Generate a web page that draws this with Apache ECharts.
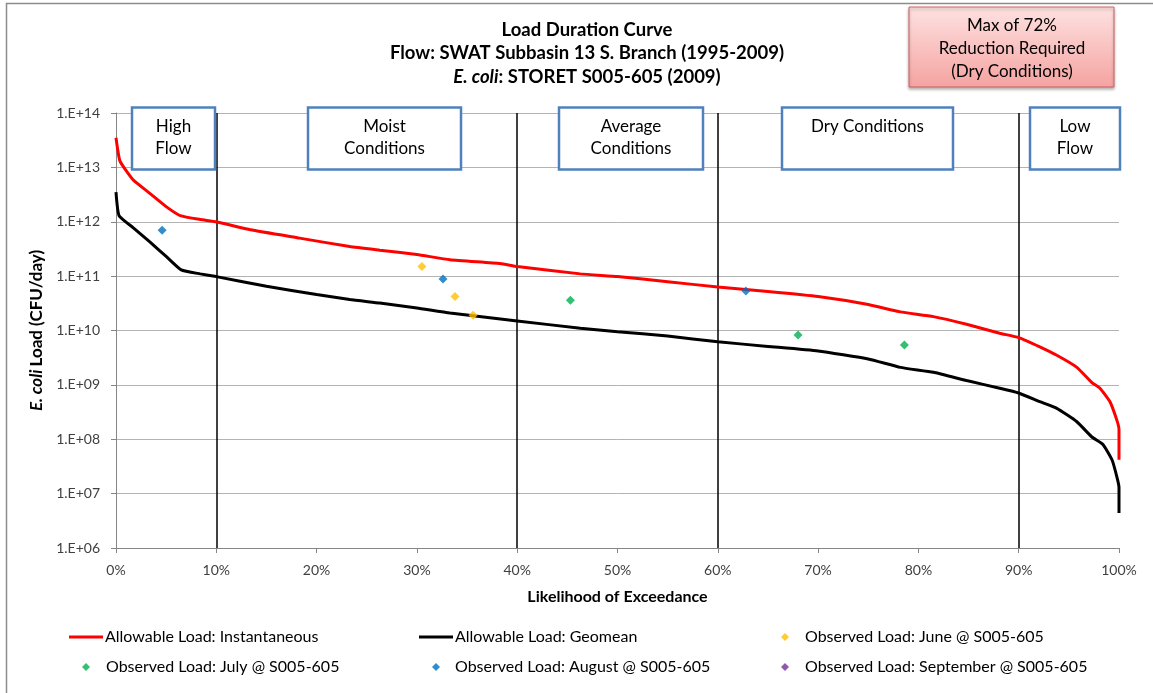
<!DOCTYPE html>
<html>
<head>
<meta charset="utf-8">
<script src="https://cdn.jsdelivr.net/npm/echarts@6/dist/echarts.min.js"></script>
<style>
  html, body { margin: 0; padding: 0; background: #fff; }
  #chart { width: 1153px; height: 693px; }
</style>
</head>
<body>
<div id="chart"></div>
<script>
// allowable load curves (percent exceedance / CFU per day)
const redPct = [0, 0.4, 1.7, 3.4, 5, 6.4, 8.4, 10, 13.4, 18.3, 23.3, 26.3, 30, 33.3, 38.3, 40, 46.3, 50, 55, 60, 65, 70, 75, 78.2, 81.5, 84.8, 88.1, 90, 92.1, 93.8, 95.8, 97.3, 98.1, 99.1, 99.8, 100, 100];
const redLoad = [3.5e13, 1.3e13, 5.9e12, 3.3e12, 1.9e12, 1.3e12, 1.1e12, 1.0e12, 7.1e11, 5.0e11, 3.5e11, 3.0e11, 2.5e11, 2.0e11, 1.7e11, 1.5e11, 1.1e11, 9.8e10, 7.9e10, 6.3e10, 5.2e10, 4.2e10, 3.0e10, 2.2e10, 1.8e10, 1.3e10, 8.9e9, 7.4e9, 5.0e9, 3.5e9, 2.1e9, 1.1e9, 8.7e8, 4.9e8, 2.2e8, 1.5e8, 4.2e7];

const blackPct = [0, 0.3, 1.7, 3.4, 5, 6.5, 8.4, 10, 15, 20, 23.3, 26.3, 30, 33.3, 40, 46.3, 50, 55, 60, 65, 70, 75, 78.2, 81.5, 84.8, 88.1, 90, 92.1, 93.8, 95.8, 97.3, 98.4, 99.3, 99.8, 100, 100];
const blackLoad = [3.5e12, 1.3e12, 7.8e11, 4.2e11, 2.3e11, 1.3e11, 1.1e11, 9.8e10, 6.5e10, 4.6e10, 3.7e10, 3.2e10, 2.6e10, 2.1e10, 1.5e10, 1.1e10, 9.5e9, 7.9e9, 6.2e9, 5.1e9, 4.2e9, 3.0e9, 2.1e9, 1.7e9, 1.2e9, 8.7e8, 7.1e8, 4.9e8, 3.7e8, 2.1e8, 1.1e8, 8.0e7, 4.2e7, 2.0e7, 1.3e7, 4.4e6];

// observed loads
const junePct = [30.5, 33.8, 35.6];
const juneLoad = [1.5e11, 4.2e10, 1.9e10];
const julyPct = [45.3, 68.0, 78.6];
const julyLoad = [3.6e10, 8.3e9, 5.4e9];
const augPct = [4.6, 32.6, 62.8];
const augLoad = [7.0e11, 8.9e10, 5.3e10];
const sepPct = [];
const sepLoad = [];

const zoneBreaks = [10, 40, 60, 90];
const xTicks = [0, 100, 10]; // min, max, step

const FONT = "Lato, 'Liberation Sans', sans-serif";

const zip = (xs, ys) => xs.map((x, i) => [x, ys[i]]);

const chart = echarts.init(document.getElementById("chart"));

// zone label boxes drawn as annotations
const zoneBoxes = [
  { x: 132, w: 83, text: "High\nFlow" },
  { x: 308, w: 153, text: "Moist\nConditions" },
  { x: 559, w: 144, text: "Average\nConditions" },
  { x: 782, w: 171, text: "Dry Conditions\n " },
  { x: 1030, w: 90, text: "Low\nFlow" },
];

const graphics = [
  {
    type: "rect",
    shape: { x: 6.5, y: 3.5, width: 1200, height: 800 },
    style: { fill: null, stroke: "#8c8c8c", lineWidth: 1.5 },
    silent: true,
    z: -1,
  },
  {
    type: "rect",
    shape: { x: 909, y: 7, width: 205, height: 80 },
    style: {
      fill: new echarts.graphic.LinearGradient(0, 0, 0, 1, [
        { offset: 0, color: "#fde2e1" },
        { offset: 1, color: "#f5a3a1" },
      ]),
      stroke: "#d0615e",
      lineWidth: 1,
      shadowBlur: 3,
      shadowOffsetY: 2,
      shadowColor: "rgba(0,0,0,0.3)",
    },
    z: 100,
  },
  {
    type: "text",
    x: 1012,
    y: 14,
    style: {
      text: "Max of 72%\nReduction Required\n(Dry Conditions)",
      font: "17px " + FONT,
      fill: "#000",
      align: "center",
      lineHeight: 23,
    },
    z: 101,
  },
];

zoneBoxes.forEach((b) => {
  graphics.push({
    type: "rect",
    shape: { x: b.x, y: 107.5, width: b.w, height: 62 },
    style: { fill: "#fff", stroke: "#4f81bd", lineWidth: 2.5 },
    z: 100,
  });
  graphics.push({
    type: "text",
    x: b.x + b.w / 2,
    y: 116,
    style: {
      text: b.text,
      font: "17px " + FONT,
      fill: "#000",
      align: "center",
      lineHeight: 22,
    },
    z: 101,
  });
});

// one legend per entry so the three columns line up
const legendItems = [
  { name: "Allowable Load: Instantaneous", left: 69, top: 627, icon: "rect", w: 34, h: 3, pad: -3 },
  { name: "Allowable Load: Geomean", left: 419, top: 627, icon: "rect", w: 34, h: 3, pad: -3 },
  { name: "Observed Load: June @ S005-605", left: 781, top: 627, icon: "diamond", w: 8, h: 8, pad: 11 },
  { name: "Observed Load: July @ S005-605", left: 82, top: 657, icon: "diamond", w: 8, h: 8, pad: 11 },
  { name: "Observed Load: August @ S005-605", left: 432, top: 657, icon: "diamond", w: 8, h: 8, pad: 10 },
  { name: "Observed Load: September @ S005-605", left: 781, top: 657, icon: "diamond", w: 8, h: 8, pad: 11 },
];

const legends = legendItems.map((it) => ({
  left: it.left,
  top: it.top,
  padding: 0,
  itemWidth: it.w,
  itemHeight: it.h,
  icon: it.icon,
  selectedMode: false,
  textStyle: {
    fontFamily: FONT,
    fontSize: 16,
    color: "#000",
    lineHeight: 20,
    padding: [0, 0, 0, it.pad],
  },
  data: [it.name],
}));

const option = {
  animation: false,
  textStyle: { fontFamily: FONT },
  title: {
    text: "{b|Load Duration Curve}\n{b|Flow: SWAT Subbasin 13 S. Branch (1995-2009)}\n{i|E. coli}{b|: STORET S005-605 (2009)}",
    left: 582,
    top: 13,
    textAlign: "center",
    textStyle: {
      rich: {
        b: { fontFamily: FONT, fontSize: 18.5, fontWeight: "bold", color: "#000", lineHeight: 23.5 },
        i: { fontFamily: FONT, fontSize: 18.5, fontWeight: "bold", fontStyle: "italic", color: "#000", lineHeight: 23.5 },
      },
    },
  },
  grid: { left: 116, right: 34, top: 113, bottom: 145 },
  legend: legends,
  xAxis: {
    type: "value",
    min: xTicks[0],
    max: xTicks[1],
    interval: xTicks[2],
    name: "Likelihood of Exceedance",
    nameLocation: "middle",
    nameGap: 41,
    nameTextStyle: { fontFamily: FONT, fontSize: 16, fontWeight: "bold", color: "#000" },
    axisLine: { onZero: false, lineStyle: { color: "#868686", width: 1 } },
    axisTick: { show: true, length: 5, lineStyle: { color: "#868686" } },
    axisLabel: { formatter: "{value}%", fontSize: 14, color: "#404040", margin: 15 },
    splitLine: { show: false },
  },
  yAxis: {
    type: "log",
    logBase: 10,
    min: 1e6,
    max: 1e14,
    splitNumber: 8,
    name: "{i|E. coli} {b|Load (CFU/day)}",
    nameLocation: "middle",
    nameGap: 70,
    nameRotate: 90,
    nameTextStyle: {
      rich: {
        i: { fontFamily: FONT, fontSize: 17, fontWeight: "bold", fontStyle: "italic", color: "#000" },
        b: { fontFamily: FONT, fontSize: 17, fontWeight: "bold", color: "#000" },
      },
    },
    axisLine: { show: true, lineStyle: { color: "#868686", width: 1 } },
    axisTick: { show: true, length: 5, lineStyle: { color: "#868686" } },
    axisLabel: {
      fontSize: 14,
      color: "#404040",
      margin: 16,
      formatter: (v) => {
        const e = Math.round(Math.log10(v));
        return "1.E+" + (e < 10 ? "0" + e : e);
      },
    },
    splitLine: { show: true, lineStyle: { color: "#b3b3b3", width: 1 } },
  },
  series: [
    {
      name: "Allowable Load: Instantaneous",
      type: "line",
      data: zip(redPct, redLoad),
      symbol: "none",
      smooth: 0.15,
      lineStyle: { color: "#ff0000", width: 3 },
      itemStyle: { color: "#ff0000" },
      z: 3,
      markLine: {
        silent: true,
        symbol: "none",
        label: { show: false },
        lineStyle: { color: "#000", width: 1.5, type: "solid" },
        data: zoneBreaks.map((v) => ({ xAxis: v })),
        z: 1,
      },
    },
    {
      name: "Allowable Load: Geomean",
      type: "line",
      data: zip(blackPct, blackLoad),
      symbol: "none",
      smooth: 0.15,
      lineStyle: { color: "#000000", width: 3 },
      itemStyle: { color: "#000000" },
      z: 3,
    },
    {
      name: "Observed Load: June @ S005-605",
      type: "scatter",
      symbol: "diamond",
      symbolSize: 9,
      data: zip(junePct, juneLoad),
      itemStyle: { color: "#ffc000" },
      z: 4,
    },
    {
      name: "Observed Load: July @ S005-605",
      type: "scatter",
      symbol: "diamond",
      symbolSize: 9,
      data: zip(julyPct, julyLoad),
      itemStyle: { color: "#00b050" },
      z: 4,
    },
    {
      name: "Observed Load: August @ S005-605",
      type: "scatter",
      symbol: "diamond",
      symbolSize: 9,
      data: zip(augPct, augLoad),
      itemStyle: { color: "#0070c0" },
      z: 4,
    },
    {
      name: "Observed Load: September @ S005-605",
      type: "scatter",
      symbol: "diamond",
      symbolSize: 9,
      data: zip(sepPct, sepLoad),
      itemStyle: { color: "#7030a0" },
      z: 4,
    },
  ],
  graphic: graphics,
};

chart.setOption(option);
</script>
</body>
</html>
